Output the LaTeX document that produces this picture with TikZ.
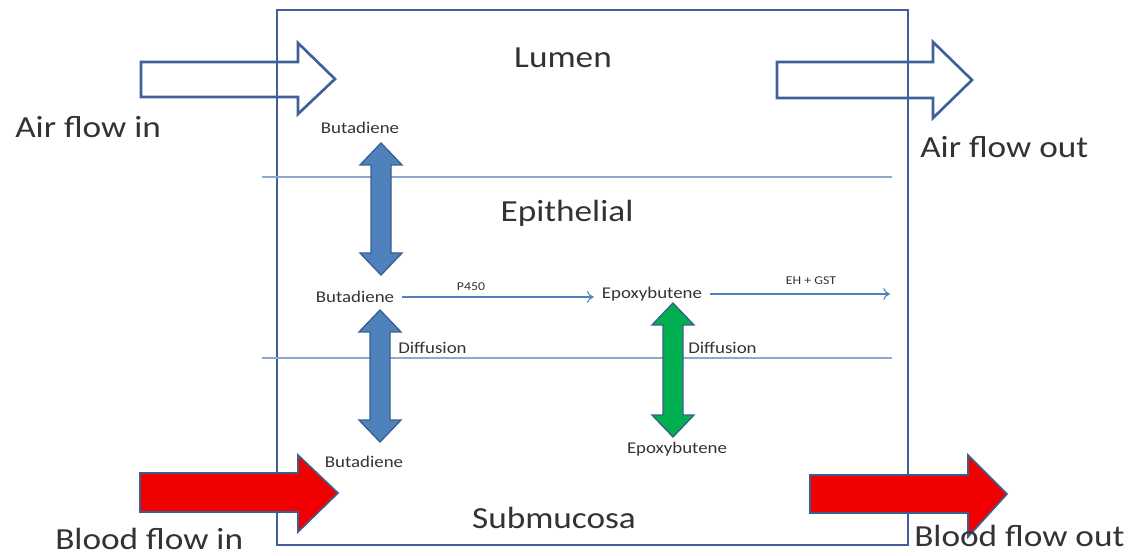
\documentclass[tikz,border=0pt]{standalone}
\usepackage{fontspec}
\setmainfont[FakeStretch=1.15]{Carlito}
\definecolor{boxblue}{HTML}{41609A}
\definecolor{lineblue}{HTML}{8DA9CF}
\definecolor{arrblue}{HTML}{4F81BD}
\definecolor{arredge}{HTML}{3A5F8F}
\definecolor{grn}{HTML}{00B050}
\definecolor{txt}{HTML}{333333}
\definecolor{bloodred}{HTML}{F00000}
\tikzset{
  big/.style={text=txt, font=\fontsize{23}{27}\selectfont, inner sep=0pt},
  small/.style={text=txt, font=\fontsize{12.3}{14}\selectfont, inner sep=0pt},
  tiny/.style={text=txt, font=\fontsize{9}{11}\selectfont, inner sep=0pt},
  thinarrow/.style={draw=arrblue, line width=0.8pt, -{To[length=5pt,width=9pt]}},
  hollowarrow/.style={draw=boxblue, line width=2pt},
  redarrow/.style={draw=arredge, line width=1.2pt, fill=bloodred},
  layerline/.style={draw=lineblue, line width=1.1pt},
}
\usetikzlibrary{arrows.meta}
\newcommand\vdblarrow[4]{%
  \filldraw[fill=#4, draw=arredge, line width=1pt]
    (#1-10,#2+22) -- (#1-21,#2+22) -- (#1,#2) -- (#1+21,#2+22) -- (#1+10,#2+22)
    -- (#1+10,#3-22) -- (#1+21,#3-22) -- (#1,#3) -- (#1-21,#3-22) -- (#1-10,#3-22) -- cycle;}
\begin{document}
\begin{tikzpicture}[x=0.75pt,y=-0.75pt]
\useasboundingbox (0,0) rectangle (1133,556);
% main box
\draw[draw=boxblue, line width=2pt] (277,10) rectangle (908,545);
% layer lines
\draw[layerline] (262,177) -- (892,177);
\draw[layerline] (262,358) -- (892,358);
% air arrows
\draw[hollowarrow] (141,62) -- (298,62) -- (298,43) -- (335,79) -- (298,114) -- (298,97) -- (141,97) -- cycle;
\draw[hollowarrow] (777,62) -- (933,62) -- (933,42) -- (972,80) -- (933,118) -- (933,98) -- (777,98) -- cycle;
% blood arrows
\filldraw[redarrow] (140,473) -- (298,473) -- (298,455) -- (338,493) -- (298,532) -- (298,512) -- (140,512) -- cycle;
\filldraw[redarrow] (810,475) -- (968,475) -- (968,455) -- (1007,494) -- (968,537) -- (968,513) -- (810,513) -- cycle;
% labels
\node[big] (lumen) at (563,58) {Lumen};
\node[big] (epi) at (567,213) {Epithelial};
\node[big] (sub) at (554,518) {Submucosa};
\node[big, anchor=west] (airin) at (15,127) {Air flow in};
\node[big, anchor=west] (airout) at (920,147) {Air flow out};
\node[big, anchor=west] (bloodin) at (55,539) {Blood flow in};
\node[big, anchor=west] (bloodout) at (914,536) {Blood flow out};
% species
\node[small] (bt) at (360,128) {Butadiene};
\node[small] (bm) at (355,297) {Butadiene};
\node[small] (bb) at (364,462) {Butadiene};
\node[small] (em) at (652,294) {Epoxybutene};
\node[small] (eb) at (677,449) {Epoxybutene};
\node[small, anchor=west] (d1) at (398,348) {Diffusion};
\node[small, anchor=west] (d2) at (688,348) {Diffusion};
\node[tiny] (p450) at (471,287) {P450};
\node[tiny] (ehgst) at (811,281) {EH + GST};
\coordinate (out) at (890,292);
% reactions
\draw[thinarrow] ([xshift=6pt]bm.east) -- ([xshift=-6pt]bm.east -| em.west);
\draw[thinarrow] ([xshift=6pt]em.east) -- (em.east -| out);
% diffusion arrows
\vdblarrow{381}{143}{275}{arrblue}
\vdblarrow{380}{310}{442}{arrblue}
\vdblarrow{673}{303}{437}{grn}
\end{tikzpicture}
\end{document}
